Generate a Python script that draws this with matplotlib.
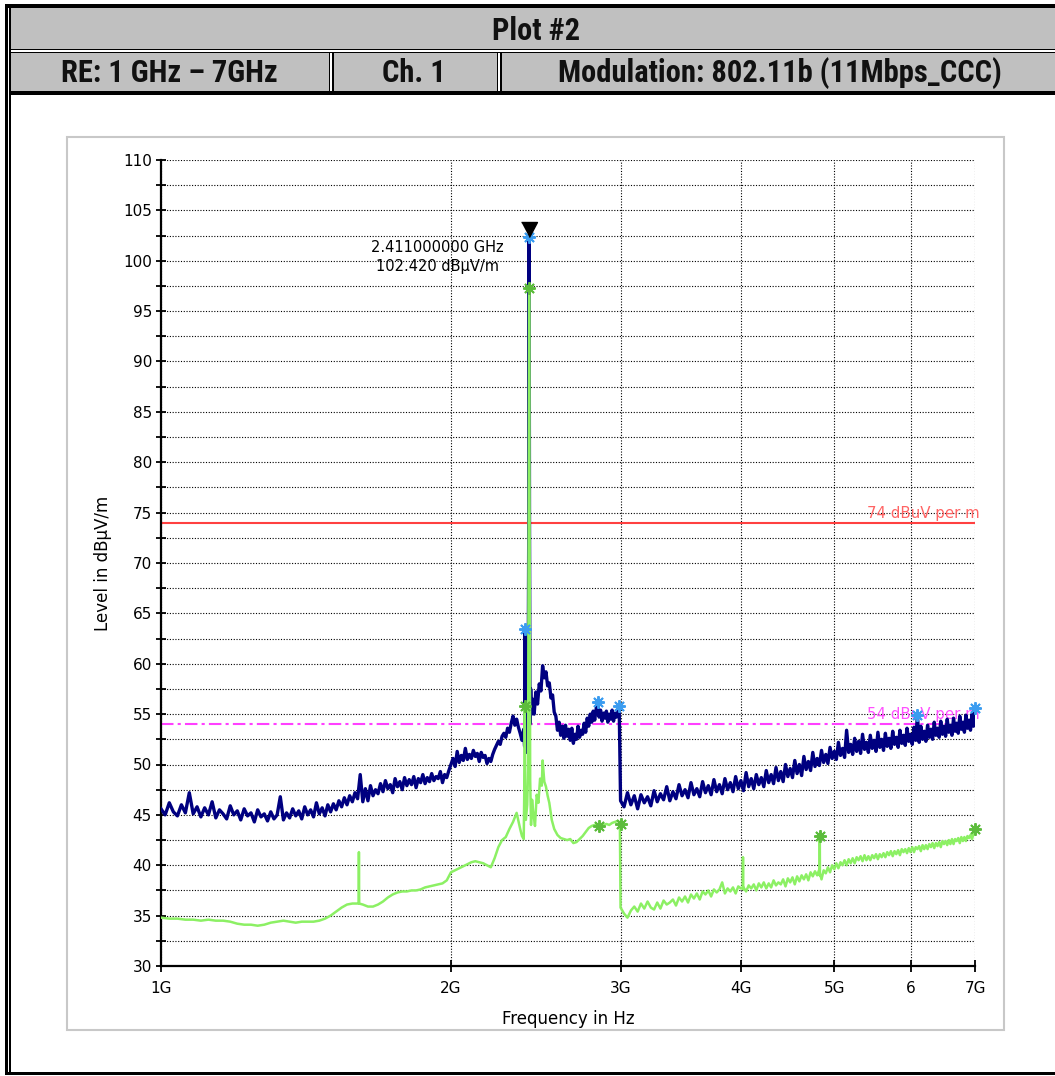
import numpy as np
import matplotlib
matplotlib.use("Agg")
import matplotlib.pyplot as plt
from matplotlib import ticker, font_manager
from matplotlib.patches import Rectangle

# ---- data (GHz / dBuV/m) ----
# peak trace, 1.00 .. 2.37 GHz in 10 MHz steps
peak_a = [45.6, 45.0, 46.2, 45.3, 44.9, 46.0, 45.2, 47.2, 45.1, 45.8,
          44.8, 45.7, 45.0, 46.3, 44.7, 45.5, 45.1, 44.6, 45.9, 45.0,
          45.4, 44.5, 45.6, 44.9, 45.2, 44.3, 45.5, 44.8, 45.1, 44.4,
          45.3, 44.6, 45.0, 46.8, 44.5, 45.2, 44.7, 45.6, 44.9, 45.4,
          44.6, 45.8, 45.0, 45.5, 44.8, 46.2, 45.1, 45.7, 44.9, 46.0,
          45.3, 46.1, 45.5, 46.4, 45.8, 46.7, 46.0, 46.9, 46.3, 47.2,
          46.6, 49.0, 46.3, 47.6, 46.4, 47.9, 46.9, 47.5, 47.1, 48.1,
          47.3, 48.4, 47.6, 48.0, 47.2, 48.6, 47.8, 48.3, 47.5, 48.7,
          47.9, 48.5, 48.0, 48.8, 47.7, 48.6, 48.2, 49.0, 48.1, 48.7,
          48.3, 49.1, 48.4, 48.8, 48.6, 49.3, 48.2, 49.0, 48.7, 49.4,
          50.0, 50.6, 49.8, 51.3, 50.2, 50.9, 50.4, 51.6, 50.5, 51.0,
          50.6, 51.4, 50.8, 51.1, 50.3, 51.2, 50.7, 50.9, 50.1, 50.6,
          50.3, 51.0, 51.5, 51.9, 52.3, 52.0, 52.8, 53.1, 52.7, 53.6,
          53.2, 54.1, 54.8, 53.9, 54.5, 53.7, 53.1, 52.4]
# peak trace around the carrier
peak_b_f = [2.380, 2.385, 2.388, 2.390, 2.393, 2.400, 2.405, 2.409, 2.411,
            2.413, 2.416, 2.420, 2.425]
peak_b = [53.5, 51.8, 63.4, 52.5, 51.2, 53.0, 55.0, 75.0, 102.4,
          75.0, 54.0, 57.5, 55.0]
# peak trace, 2.43 .. 2.99 GHz in 10 MHz steps
peak_c = [56.5, 55.0, 57.2, 56.0, 58.0, 57.3, 59.8, 58.6, 59.2, 57.8,
          58.1, 56.6, 56.9, 55.2, 54.8, 53.4, 54.2, 52.9, 53.8, 52.6,
          53.9, 52.8, 53.5, 52.4, 53.6, 52.1, 53.0, 52.5, 53.8, 52.7,
          53.4, 53.0, 54.1, 53.2, 54.6, 53.8, 55.0, 54.2, 55.3, 54.4,
          55.5, 56.2, 54.7, 55.4, 54.3, 55.1, 54.6, 55.3, 54.2, 55.0,
          54.5, 55.4, 54.3, 55.1, 54.7, 55.2, 55.8]
# peak trace, 3.00 .. 7.00 GHz in 25 MHz steps
peak_d = [46.4, 45.8, 47.2, 46.0, 46.9, 45.6, 47.0, 46.2,
          46.8, 45.9, 47.4, 46.3, 47.1, 46.5, 47.8, 46.4,
          47.3, 46.6, 48.0, 46.9, 47.5, 46.7, 48.2, 47.0,
          47.6, 46.8, 48.3, 47.2, 47.9, 47.0, 48.5, 47.3,
          48.0, 47.1, 48.6, 47.5, 48.2, 47.3, 48.8, 47.6,
          48.4, 47.4, 49.2, 47.8, 48.6, 47.6, 49.0, 48.0,
          48.7, 47.8, 49.4, 48.2, 49.0, 48.1, 49.7, 48.4,
          49.3, 48.3, 50.0, 48.8, 49.6, 48.7, 50.4, 49.1,
          50.0, 48.9, 50.8, 49.5, 50.3, 49.4, 51.2, 49.8,
          50.6, 49.9, 51.4, 50.2, 51.0, 50.1, 51.7, 50.6,
          51.3, 50.5, 52.2, 50.9, 51.6, 50.7, 53.4, 51.2,
          52.0, 51.0, 52.6, 51.3, 52.3, 51.1, 53.0, 51.5,
          52.2, 51.2, 52.9, 51.6, 52.4, 51.3, 53.2, 51.7,
          52.5, 51.4, 53.1, 51.8, 52.6, 51.6, 53.3, 52.0,
          52.7, 51.7, 53.4, 52.1, 52.9, 51.9, 53.6, 52.3,
          53.0, 52.0, 53.7, 52.4, 54.9, 52.2, 53.8, 52.5,
          53.3, 52.3, 53.9, 52.7, 53.5, 52.5, 54.2, 52.9,
          53.6, 52.7, 54.3, 53.0, 53.8, 52.8, 54.5, 53.2,
          53.9, 52.9, 54.6, 53.3, 54.1, 53.1, 54.8, 53.5,
          54.2, 53.2, 54.9, 53.6, 54.4, 53.4, 55.0, 53.8,
          55.6]

# average trace, 1.00 .. 2.36 GHz in 20 MHz steps
avg_a = [34.8, 34.7, 34.7, 34.6, 34.6, 34.5, 34.6, 34.5, 34.5, 34.4,
         34.2, 34.1, 34.1, 34.0, 34.1, 34.3, 34.4, 34.5, 34.4, 34.3,
         34.4, 34.4, 34.4, 34.5, 34.7, 35.0, 35.4, 35.8, 36.1, 36.2,
         36.2, 36.1, 35.9, 35.9, 36.1, 36.4, 36.8, 37.1, 37.3, 37.4,
         37.4, 37.5, 37.5, 37.6, 37.8, 37.9, 38.0, 38.1, 38.2, 38.5,
         39.3, 39.5, 39.7, 39.9, 40.1, 40.3, 40.4, 40.3, 40.2, 40.0,
         39.8, 40.7, 41.8, 42.5, 42.8, 43.6, 44.3, 45.2, 43.6]
# average trace around the carrier and up to 3 GHz
avg_b_f = [2.370, 2.380, 2.385, 2.386, 2.388, 2.392, 2.400, 2.405, 2.409,
           2.411, 2.413, 2.417, 2.422, 2.428, 2.435, 2.445, 2.455, 2.465,
           2.475, 2.485, 2.490, 2.500, 2.510, 2.520, 2.530, 2.545, 2.560,
           2.580, 2.600, 2.620, 2.640, 2.660, 2.680, 2.700, 2.720, 2.740,
           2.760, 2.780, 2.800, 2.820, 2.840, 2.860, 2.880, 2.900, 2.920,
           2.940, 2.960, 2.980, 2.995]
avg_b = [42.9, 42.6, 50.0, 55.8, 48.0, 44.5, 46.0, 49.5, 80.0,
         97.3, 80.0, 48.5, 44.0, 46.5, 45.2, 43.9, 47.0, 46.2,
         48.6, 47.9, 50.4, 48.3, 47.8, 46.9, 46.2, 44.5, 43.6,
         43.0, 42.7, 42.6, 42.5, 42.6, 42.2, 42.3, 42.6, 42.9,
         43.3, 43.7, 43.9, 44.0, 44.0, 43.9, 44.0, 44.1, 44.0,
         44.2, 44.3, 44.4, 44.2]
# average trace, 3.00 .. 7.00 GHz in 25 MHz steps
avg_d = [35.8, 35.2, 34.8, 35.5, 35.9, 35.4, 36.2, 35.7,
         36.4, 35.8, 35.6, 36.3, 35.7, 36.5, 36.1, 36.3,
         36.6, 36.0, 36.8, 36.4, 36.9, 36.3, 37.1, 36.7,
         37.2, 36.6, 37.4, 37.1, 37.5, 36.9, 37.6, 37.3,
         37.6, 38.3, 37.2, 37.7, 37.4, 37.8, 37.2, 37.9,
         37.7, 37.8, 37.4, 38.0, 37.7, 38.1, 37.5, 38.2,
         37.8, 38.3, 37.7, 38.2, 37.8, 38.5, 38.0, 38.3,
         38.1, 38.6, 37.9, 38.7, 38.3, 38.8, 38.1, 38.9,
         38.4, 39.0, 38.6, 39.1, 38.5, 39.3, 38.9, 39.4,
         39.0, 39.6, 38.6, 39.5, 39.2, 39.8, 39.3, 40.0,
         39.6, 40.2, 39.7, 40.3, 40.0, 40.5, 40.0, 40.6,
         40.2, 40.7, 40.2, 40.8, 40.5, 40.9, 40.4, 41.0,
         40.5, 40.9, 40.5, 41.0, 40.7, 41.1, 40.6, 41.1,
         40.8, 41.2, 40.8, 41.3, 41.0, 41.4, 40.9, 41.4,
         41.1, 41.5, 41.0, 41.6, 41.3, 41.6, 41.2, 41.7,
         41.3, 41.8, 41.3, 41.8, 41.6, 41.9, 41.4, 42.0,
         41.6, 42.0, 41.6, 42.1, 41.8, 42.2, 41.7, 42.2,
         41.9, 42.3, 41.8, 42.4, 42.1, 42.4, 42.0, 42.5,
         42.1, 42.6, 42.1, 42.6, 42.4, 42.7, 42.2, 42.8,
         42.4, 42.8, 42.4, 42.9, 42.7, 43.0, 42.6, 43.1,
         43.6]
# narrow spurs on the average trace
spur_f = [1.604, 1.605, 1.606, 4.018, 4.020, 4.022, 4.828, 4.830, 4.832]
spur_v = [36.2, 41.3, 36.2, 37.7, 40.8, 37.6, 39.0, 42.9, 39.2]

# detector markers
peak_mark_f = [2.411, 2.388, 2.84, 2.99, 6.10, 7.00]
peak_mark_v = [102.4, 63.4, 56.2, 55.8, 54.9, 55.6]
avg_mark_f = [2.411, 2.386, 2.85, 3.00, 4.83, 7.00]
avg_mark_v = [97.3, 55.8, 43.9, 44.1, 42.9, 43.6]

limit_pk = 74
limit_av = 54
xtick_f = [1, 2, 3, 4, 5, 6, 7]
xtick_lbl = ["1G", "2G", "3G", "4G", "5G", "6", "7G"]

header_title = "Plot #2"
header_cells = ["RE: 1 GHz \u2013 7GHz", "Ch. 1", "Modulation: 802.11b (11Mbps_CCC)"]

# frequency grids for the stepped parts
fa = 1.00 + 0.01 * np.arange(len(peak_a))
fc = 2.43 + 0.01 * np.arange(len(peak_c))
fd = 3.00 + 0.025 * np.arange(len(peak_d))
peak_f = np.concatenate([fa, peak_b_f, fc, fd])
peak_v = np.concatenate([peak_a, peak_b, peak_c, peak_d])

ga = 1.00 + 0.02 * np.arange(len(avg_a))
gd = 3.00 + 0.025 * np.arange(len(avg_d))
avg_f = np.concatenate([ga, avg_b_f, gd, spur_f])
avg_v = np.concatenate([avg_a, avg_b, avg_d, spur_v])
order = np.argsort(avg_f, kind="stable")
avg_f, avg_v = avg_f[order], avg_v[order]

# ---- fonts ----
def pick(names):
    for n in names:
        try:
            font_manager.findfont(n, fallback_to_default=False)
            return n
        except Exception:
            pass
    return "DejaVu Sans"

head_font = pick(["Liberation Sans Narrow", "Roboto Condensed", "Liberation Sans"])
plt.rcParams["font.family"] = "DejaVu Sans"

W, H = 1055, 1076
fig = plt.figure(figsize=(W / 100, H / 100), dpi=100)


def box(x0, y0, x1, y1, color, **kw):
    r = Rectangle((x0 / W, 1 - y1 / H), (x1 - x0) / W, (y1 - y0) / H,
                  transform=fig.transFigure, facecolor=color, edgecolor="none", **kw)
    fig.add_artist(r)


gray = "#c0c0c0"
# header table
box(5, 4, 1055, 7.5, "black")
box(11, 8, 1055, 49, gray)
box(10, 49, 1055, 50.3, "black")
box(10, 51.8, 1055, 53, "black")
box(11, 53, 1055, 91, gray)
box(10, 91, 1055, 95, "black")
for xd in (329, 497):
    box(xd, 53, xd + 4.5, 91, "white")
    box(xd, 53, xd + 1.4, 91, "black")
    box(xd + 3.1, 53, xd + 4.5, 91, "black")
box(5, 4, 7.5, 1075, "black")
box(9, 4, 10.5, 1075, "black")
box(5, 1072, 1055, 1075, "black")

fig.text(536 / W, 1 - 31 / H, header_title, ha="center", va="center",
         fontsize=22, fontweight="bold", family=head_font, color="#111111")
for cx, t in zip([169, 414, 780], header_cells):
    fig.text(cx / W, 1 - 73 / H, t, ha="center", va="center",
             fontsize=22, fontweight="bold", family=head_font, color="#111111")

# chart frame
fig.add_artist(Rectangle((67 / W, 1 - 1030 / H), (1004 - 67) / W, (1030 - 137) / H,
                         transform=fig.transFigure, facecolor="none",
                         edgecolor="#c8c8c8", lw=1.5))

ax = fig.add_axes([161 / W, 1 - 966 / H, 814 / W, 806 / H])
ax.set_xscale("log")
ax.set_xlim(1, 7)
ax.set_ylim(30, 110)

ax.xaxis.set_major_locator(ticker.FixedLocator(xtick_f))
ax.xaxis.set_major_formatter(ticker.FixedFormatter(xtick_lbl))
ax.xaxis.set_minor_locator(ticker.NullLocator())
ax.yaxis.set_major_locator(ticker.MultipleLocator(5))
ax.yaxis.set_minor_locator(ticker.MultipleLocator(2.5))
ax.yaxis.set_major_formatter(ticker.FormatStrFormatter("%d"))

ax.grid(True, which="both", axis="y", color="black", ls=(0, (1, 1.5)), lw=0.8)
ax.grid(True, which="major", axis="x", color="black", ls=(0, (1, 1.5)), lw=0.8)
ax.set_axisbelow(True)

for s in ("top", "right"):
    ax.spines[s].set_visible(False)
for s in ("left", "bottom"):
    ax.spines[s].set_linewidth(1.6)
ax.tick_params(axis="y", which="both", direction="inout", length=7, width=1.3,
               labelsize=11, pad=3)
ax.tick_params(axis="x", which="major", direction="inout", length=8, width=1.3,
               labelsize=11, pad=7)

ax.set_xlabel("Frequency in Hz", fontsize=12, labelpad=10)
ax.set_ylabel("Level in dB\u00b5V/m", fontsize=12, labelpad=8)

# limit lines
ax.axhline(limit_pk, color="#ff4040", lw=1.5, zorder=2)
ax.axhline(limit_av, color="#ff40ff", lw=1.5, ls=(0, (6, 2, 1.5, 2)), zorder=2)
ax.text(7.08, limit_pk + 0.2, "74 dBuV per m", color="#ff6464", ha="right",
        va="bottom", fontsize=10.8, clip_on=False)
ax.text(7.08, limit_av + 0.2, "54 dBuV per m", color="#ff50ff", ha="right",
        va="bottom", fontsize=10.8, clip_on=False)

# traces
ax.plot(peak_f, peak_v, color="#000080", lw=2.4, zorder=3)
ax.plot(avg_f, avg_v, color="#8cf064", lw=1.8, zorder=4)

star = (8, 2, 0)
ax.plot(peak_mark_f, peak_mark_v, ls="none", marker=star, ms=9, mew=1.4,
        color="#3b9cf0", zorder=5, clip_on=False)
ax.plot(avg_mark_f, avg_mark_v, ls="none", marker=star, ms=9, mew=1.4,
        color="#5cbc3c", zorder=6, clip_on=False)

tri = [(-0.53, 1), (0.53, 1), (0, 0)]
ax.plot([peak_mark_f[0]], [peak_mark_v[0]], ls="none", marker=tri, ms=21.6,
        color="black", zorder=7)
ax.text(1.935, 100.4, "2.411000000 GHz\n102.420 dB\u00b5V/m", ha="center",
        va="center", fontsize=10.5, linespacing=1.35)

fig.savefig("out.png", dpi=100)
